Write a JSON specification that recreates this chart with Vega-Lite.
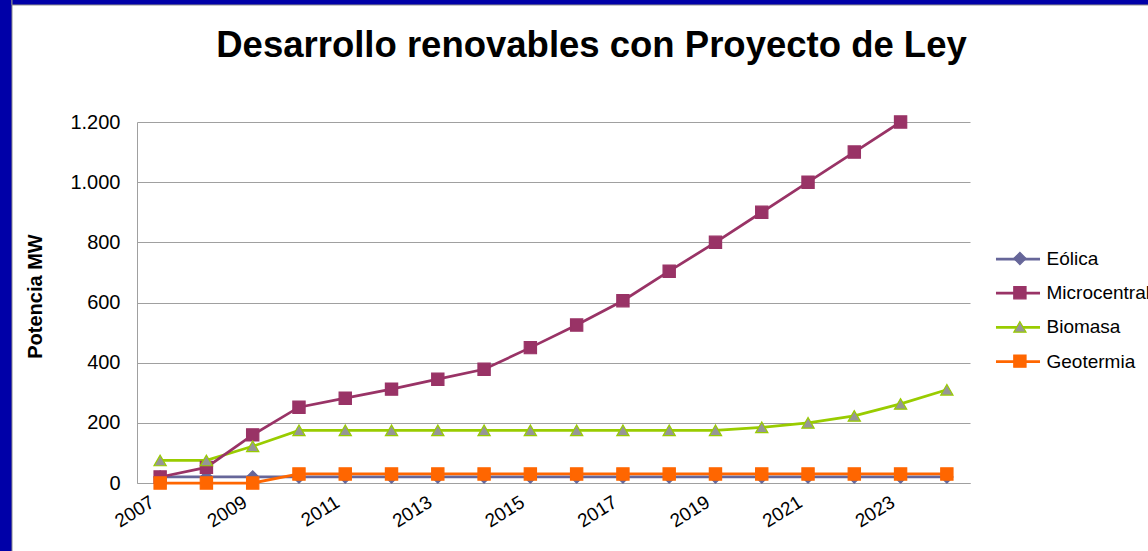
{
  "$schema": "https://vega.github.io/schema/vega-lite/v6.json",
  "width": 833,
  "height": 361,
  "autosize": {"type": "none"},
  "padding": {"left": 137, "top": 122, "right": 178, "bottom": 68},
  "background": "white",
  "config": {"view": {"stroke": null}, "font": "Liberation Sans"},
  "title": {
    "text": "Desarrollo renovables  con Proyecto de Ley",
    "font": "Liberation Sans",
    "fontSize": 36.5,
    "fontWeight": "bold",
    "color": "black",
    "anchor": "middle",
    "baseline": "alphabetic",
    "dx": 38,
    "offset": -95
  },
  "data": {
    "values": [
      {"year": 2007, "serie": "Eólica", "value": 20},
      {"year": 2008, "serie": "Eólica", "value": 20},
      {"year": 2009, "serie": "Eólica", "value": 20},
      {"year": 2010, "serie": "Eólica", "value": 20},
      {"year": 2011, "serie": "Eólica", "value": 20},
      {"year": 2012, "serie": "Eólica", "value": 20},
      {"year": 2013, "serie": "Eólica", "value": 20},
      {"year": 2014, "serie": "Eólica", "value": 20},
      {"year": 2015, "serie": "Eólica", "value": 20},
      {"year": 2016, "serie": "Eólica", "value": 20},
      {"year": 2017, "serie": "Eólica", "value": 20},
      {"year": 2018, "serie": "Eólica", "value": 20},
      {"year": 2019, "serie": "Eólica", "value": 20},
      {"year": 2020, "serie": "Eólica", "value": 20},
      {"year": 2021, "serie": "Eólica", "value": 20},
      {"year": 2022, "serie": "Eólica", "value": 20},
      {"year": 2023, "serie": "Eólica", "value": 20},
      {"year": 2024, "serie": "Eólica", "value": 20},
      {"year": 2007, "serie": "Microcentrales", "value": 20},
      {"year": 2008, "serie": "Microcentrales", "value": 52},
      {"year": 2009, "serie": "Microcentrales", "value": 160},
      {"year": 2010, "serie": "Microcentrales", "value": 252},
      {"year": 2011, "serie": "Microcentrales", "value": 282},
      {"year": 2012, "serie": "Microcentrales", "value": 312},
      {"year": 2013, "serie": "Microcentrales", "value": 345},
      {"year": 2014, "serie": "Microcentrales", "value": 378},
      {"year": 2015, "serie": "Microcentrales", "value": 450},
      {"year": 2016, "serie": "Microcentrales", "value": 525},
      {"year": 2017, "serie": "Microcentrales", "value": 606},
      {"year": 2018, "serie": "Microcentrales", "value": 704},
      {"year": 2019, "serie": "Microcentrales", "value": 800},
      {"year": 2020, "serie": "Microcentrales", "value": 900},
      {"year": 2021, "serie": "Microcentrales", "value": 1000},
      {"year": 2022, "serie": "Microcentrales", "value": 1100},
      {"year": 2023, "serie": "Microcentrales", "value": 1200},
      {"year": 2024, "serie": "Microcentrales", "value": 1300},
      {"year": 2007, "serie": "Biomasa", "value": 75},
      {"year": 2008, "serie": "Biomasa", "value": 75},
      {"year": 2009, "serie": "Biomasa", "value": 122},
      {"year": 2010, "serie": "Biomasa", "value": 175},
      {"year": 2011, "serie": "Biomasa", "value": 175},
      {"year": 2012, "serie": "Biomasa", "value": 175},
      {"year": 2013, "serie": "Biomasa", "value": 175},
      {"year": 2014, "serie": "Biomasa", "value": 175},
      {"year": 2015, "serie": "Biomasa", "value": 175},
      {"year": 2016, "serie": "Biomasa", "value": 175},
      {"year": 2017, "serie": "Biomasa", "value": 175},
      {"year": 2018, "serie": "Biomasa", "value": 175},
      {"year": 2019, "serie": "Biomasa", "value": 175},
      {"year": 2020, "serie": "Biomasa", "value": 185},
      {"year": 2021, "serie": "Biomasa", "value": 200},
      {"year": 2022, "serie": "Biomasa", "value": 223},
      {"year": 2023, "serie": "Biomasa", "value": 263},
      {"year": 2024, "serie": "Biomasa", "value": 310},
      {"year": 2007, "serie": "Geotermia", "value": 0},
      {"year": 2008, "serie": "Geotermia", "value": 0},
      {"year": 2009, "serie": "Geotermia", "value": 0},
      {"year": 2010, "serie": "Geotermia", "value": 30},
      {"year": 2011, "serie": "Geotermia", "value": 30},
      {"year": 2012, "serie": "Geotermia", "value": 30},
      {"year": 2013, "serie": "Geotermia", "value": 30},
      {"year": 2014, "serie": "Geotermia", "value": 30},
      {"year": 2015, "serie": "Geotermia", "value": 30},
      {"year": 2016, "serie": "Geotermia", "value": 30},
      {"year": 2017, "serie": "Geotermia", "value": 30},
      {"year": 2018, "serie": "Geotermia", "value": 30},
      {"year": 2019, "serie": "Geotermia", "value": 30},
      {"year": 2020, "serie": "Geotermia", "value": 30},
      {"year": 2021, "serie": "Geotermia", "value": 30},
      {"year": 2022, "serie": "Geotermia", "value": 30},
      {"year": 2023, "serie": "Geotermia", "value": 30},
      {"year": 2024, "serie": "Geotermia", "value": 30}
    ]
  },
  "layer": [
    {
      "transform": [{"filter": "datum.serie !== 'Microcentrales'"}],
      "mark": {"type": "line", "strokeWidth": 2.75},
      "encoding": {
        "x": {
          "field": "year", "type": "quantitative",
          "scale": {"domain": [2006.5, 2024.5], "nice": false, "zero": false},
          "axis": {
            "values": [2007, 2009, 2011, 2013, 2015, 2017, 2019, 2021, 2023],
            "format": "d",
            "title": null,
            "grid": false,
            "ticks": false,
            "domainColor": "#a0a0a0",
            "domainWidth": 1,
            "labelAngle": -32,
            "labelAlign": "right",
            "labelBaseline": "middle",
            "labelFont": "Liberation Sans",
            "labelFontSize": 19,
            "labelColor": "black",
            "labelPadding": 17,
            "labelOffset": -8,
            "labelOverlap": false
          }
        },
        "y": {
          "field": "value", "type": "quantitative",
          "scale": {"domain": [0, 1200], "nice": false},
          "axis": {
            "values": [0, 200, 400, 600, 800, 1000, 1200],
            "labelExpr": "replace(format(datum.value, ',d'), ',', '.')",
            "grid": true,
            "gridColor": "#a0a0a0",
            "gridWidth": 1,
            "domainColor": "#a0a0a0",
            "ticks": false,
            "labelFont": "Liberation Sans",
            "labelFontSize": 20,
            "labelColor": "black",
            "labelPadding": 17,
            "title": "Potencia MW",
            "titleFont": "Liberation Sans",
            "titleFontSize": 20,
            "titleFontWeight": "bold",
            "titleColor": "black",
            "titleAngle": -90,
            "titleAlign": "center",
            "titleBaseline": "middle",
            "titleX": -102,
            "titleY": 174
          }
        },
        "color": {
          "field": "serie", "type": "nominal",
          "sort": ["Eólica", "Microcentrales", "Biomasa", "Geotermia"],
          "scale": {"range": ["#666699", "#993366", "#99cc00", "#ff6600"]},
          "legend": {
            "orient": "none",
            "legendX": 871,
            "legendY": 127,
            "title": null,
            "padding": 0,
            "symbolType": "M-2.59,0H2.59",
            "symbolSize": 289,
            "symbolStrokeWidth": 2.75,
            "labelOffset": 18.5,
            "rowPadding": 14.2,
            "labelFont": "Liberation Sans",
            "labelFontSize": 19,
            "labelColor": "black",
            "labelLimit": 400
          }
        }
      }
    },
    {
      "transform": [{"filter": "datum.serie === 'Microcentrales'"}],
      "mark": {"type": "line", "strokeWidth": 2.75, "clip": true},
      "encoding": {
        "x": {"field": "year", "type": "quantitative", "scale": {"domain": [2006.5, 2024.5], "nice": false, "zero": false}},
        "y": {"field": "value", "type": "quantitative", "scale": {"domain": [0, 1200], "nice": false}},
        "color": {"field": "serie", "type": "nominal", "sort": ["Eólica", "Microcentrales", "Biomasa", "Geotermia"]}
      }
    },
    {
      "transform": [{"filter": "datum.value <= 1200"}],
      "mark": {"type": "point", "filled": false, "opacity": 1, "strokeWidth": 1.2, "size": 150},
      "encoding": {
        "x": {"field": "year", "type": "quantitative", "scale": {"domain": [2006.5, 2024.5], "nice": false, "zero": false}},
        "y": {"field": "value", "type": "quantitative", "scale": {"domain": [0, 1200], "nice": false}},
        "shape": {
          "field": "serie", "type": "nominal",
          "scale": {"domain": ["Eólica", "Microcentrales", "Biomasa", "Geotermia"], "range": ["diamond", "square", "triangle-up", "square"]},
          "legend": {
            "orient": "none",
            "legendX": 873.4,
            "legendY": 127,
            "title": null,
            "padding": 0,
            "labelOffset": 5,
            "rowPadding": 14.2,
            "labelFont": "Liberation Sans",
            "labelFontSize": 19,
            "labelExpr": "' '",
            "labelOpacity": 0,
            "labelLimit": 400,
            "symbolSize": 150,
            "symbolStrokeWidth": 1.2
          }
        },
        "fill": {
          "field": "serie", "type": "nominal",
          "scale": {"domain": ["Eólica", "Microcentrales", "Biomasa", "Geotermia"], "range": ["#666699", "#993366", "#969696", "#ff6600"]},
          "legend": null
        },
        "stroke": {
          "field": "serie", "type": "nominal",
          "scale": {"domain": ["Eólica", "Microcentrales", "Biomasa", "Geotermia"], "range": ["#666699", "#993366", "#99cc00", "#ff6600"]},
          "legend": null
        }
      }
    },
    {
      "data": {"values": [{"strip": "left"}]},
      "mark": {"type": "rect", "fill": "#0000a8", "stroke": "#8c8c8c", "strokeWidth": 1},
      "encoding": {
        "x": {"datum": 2001.0, "type": "quantitative", "scale": {"domain": [2006.5, 2024.5], "nice": false, "zero": false}},
        "x2": {"datum": 2003.799},
        "y": {"datum": -260, "type": "quantitative", "scale": {"domain": [0, 1200], "nice": false}},
        "y2": {"datum": 1609}
      }
    },
    {
      "data": {"values": [{"strip": "top"}]},
      "mark": {"type": "rect", "fill": "#0000a8", "stroke": "#8c8c8c", "strokeWidth": 1},
      "encoding": {
        "x": {"datum": 2003.799, "type": "quantitative", "scale": {"domain": [2006.5, 2024.5], "nice": false, "zero": false}},
        "x2": {"datum": 2035},
        "y": {"datum": 1589, "type": "quantitative", "scale": {"domain": [0, 1200], "nice": false}},
        "y2": {"datum": 1609}
      }
    }
  ]
}
